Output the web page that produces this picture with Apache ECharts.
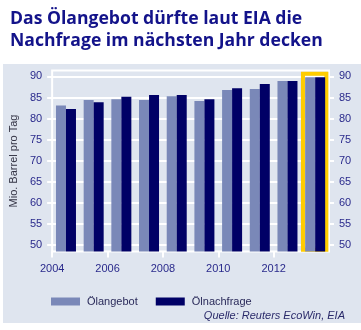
<!DOCTYPE html>
<html><head><meta charset="utf-8">
<script src="https://cdn.jsdelivr.net/npm/echarts@6/dist/echarts.min.js"></script>
<style>html,body{margin:0;padding:0;background:#fff}#c{width:361px;height:330px}</style>
</head><body><div id="c"></div>
<script>
const years = [2004, 2005, 2006, 2007, 2008, 2009, 2010, 2011, 2012, 2013];
const supply = [83.1, 84.4, 84.6, 84.4, 85.3, 84.2, 86.8, 87.0, 88.9, 89.8];
const demand = [82.3, 83.9, 85.2, 85.6, 85.6, 84.6, 87.2, 88.2, 88.9, 89.8];
const yTicks = [50, 55, 60, 65, 70, 75, 80, 85, 90];
const xLabels = [2004, 2006, 2008, 2010, 2012];
const seriesNames = ['Ölangebot', 'Ölnachfrage'];
const highlightYear = 2013;

const chart = echarts.init(document.getElementById('c'), null, {renderer: 'canvas'});
const labelColor = '#2a2a8c';
const font = 'Liberation Sans, Arial, sans-serif';
const yAxisBase = {
  type: 'value', min: 48.5, max: 91.4,
  axisLine: {show: false},
  axisTick: {show: true, customValues: yTicks, length: 5, lineStyle: {color: '#ffffff', width: 2}},
  axisLabel: {customValues: yTicks, color: labelColor, fontSize: 11, fontFamily: font, margin: 10},
  splitLine: {show: false}
};
chart.setOption({
  animation: false,
  backgroundColor: '#ffffff',
  graphic: [{
    type: 'rect', z: -10, silent: true,
    shape: {x: 3, y: 64, width: 358, height: 259},
    style: {fill: '#dfe5ef'}
  }],
  title: [{
    text: 'Das Ölangebot dürfte laut EIA die\nNachfrage im nächsten Jahr decken',
    left: 5, top: 3,
    textStyle: {color: '#13138a', fontSize: 17.6, fontWeight: 'bold', lineHeight: 22, fontFamily: 'Open Sans, sans-serif'}
  }, {
    text: 'Quelle: Reuters EcoWin, EIA',
    right: 11, top: 305,
    textStyle: {color: '#2a2a6a', fontSize: 11, fontStyle: 'italic', fontWeight: 'normal', fontFamily: font}
  }],
  legend: {
    left: 46, top: 291, itemWidth: 29, itemHeight: 8, itemGap: 18,
    icon: 'rect',
    textStyle: {color: '#2a2a5a', fontSize: 11, fontFamily: font, padding: [0, 0, 0, 2]},
    data: seriesNames
  },
  grid: {
    left: 44, right: 32, top: 70.5, bottom: 78.5,
    show: true, borderColor: '#ffffff', borderWidth: 2, backgroundColor: 'transparent'
  },
  xAxis: {
    type: 'value', min: 2004, max: 2014,
    axisLine: {show: false},
    axisTick: {show: true, customValues: xLabels, length: 6, lineStyle: {color: '#ffffff', width: 2}},
    axisLabel: {customValues: xLabels, color: labelColor, fontSize: 11, fontFamily: font, margin: 12, formatter: v => String(v)},
    splitLine: {show: false}
  },
  yAxis: [
    Object.assign({}, yAxisBase, {position: 'left',
      name: 'Mio. Barrel pro Tag', nameLocation: 'middle', nameGap: 26,
      nameTextStyle: {color: '#333344', fontSize: 11, fontFamily: font},
      splitLine: {show: true, lineStyle: {color: '#ffffff', width: 2}}}),
    Object.assign({}, yAxisBase, {position: 'right'})
  ],
  series: [{
    name: seriesNames[0], type: 'bar', barWidth: 10, barGap: '0%',
    itemStyle: {color: '#7a88b8'},
    data: years.map((y, i) => [y + 0.5, supply[i]])
  }, {
    name: seriesNames[1], type: 'bar', barWidth: 10, barGap: '0%',
    itemStyle: {color: '#000066'},
    data: years.map((y, i) => [y + 0.5, demand[i]]),
    markArea: {
      silent: true,
      itemStyle: {color: 'rgba(0,0,0,0)', borderColor: '#ffcc00', borderWidth: 4},
      data: [[{coord: [highlightYear + 0.06, 90.65]}, {coord: [highlightYear + 0.905, 48.9]}]]
    }
  }]
});
</script></body></html>
